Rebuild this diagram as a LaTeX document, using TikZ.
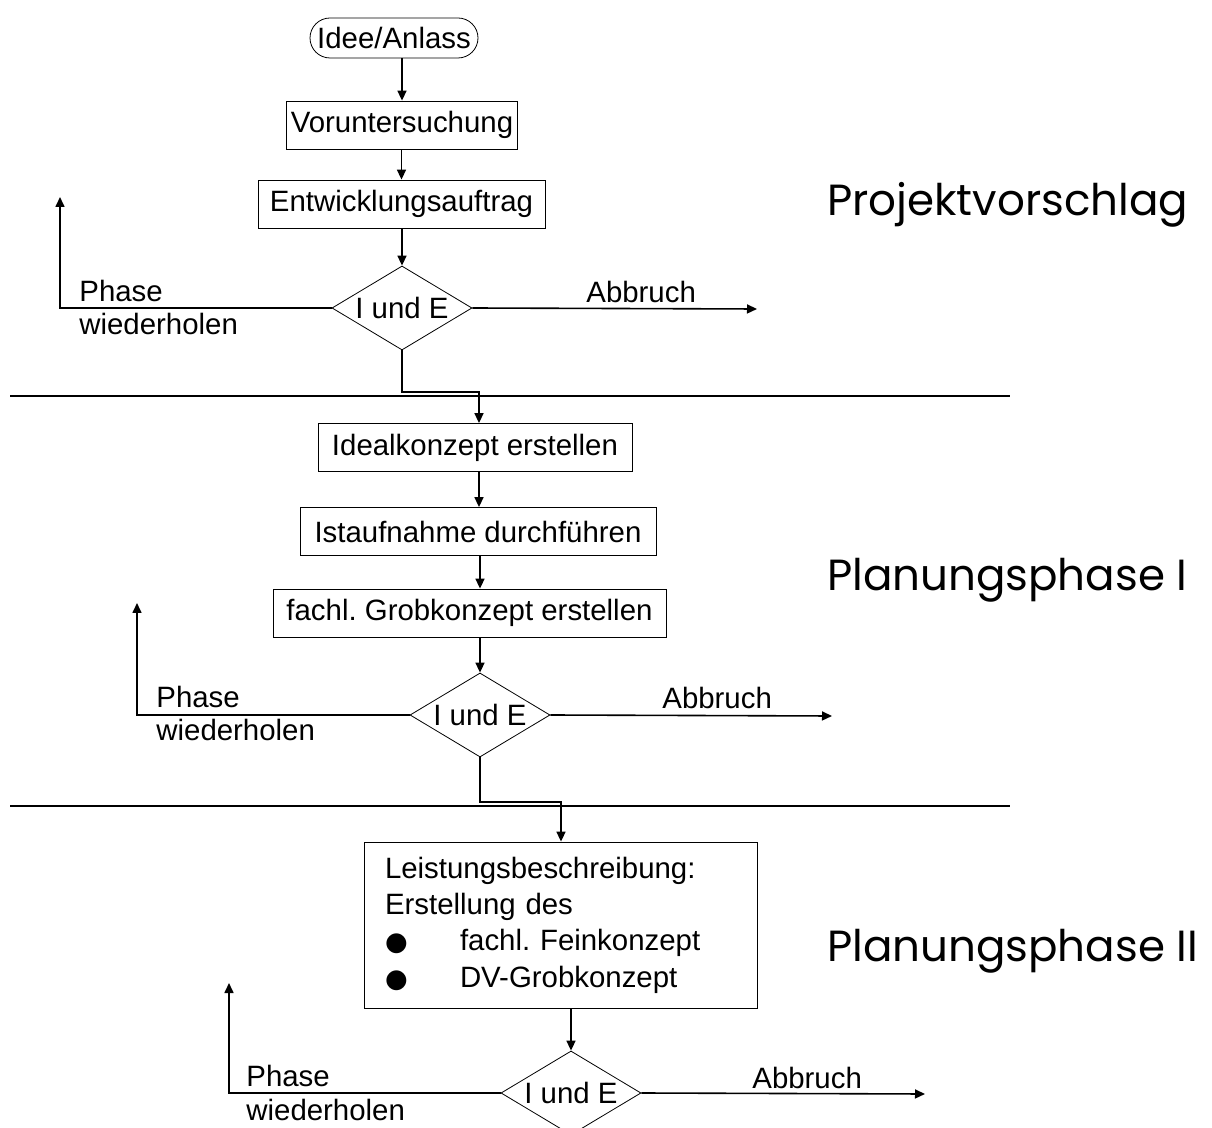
\documentclass[tikz,border=0pt]{standalone}
\usepackage{fontspec}
\setmainfont{Liberation Sans}
\newfontfamily\phasefont{Poppins}
\newfontfamily\bulletfont{DejaVu Sans}
\usetikzlibrary{positioning,shapes.geometric,arrows.meta}
\frenchspacing

\tikzset{
	box/.style={draw, thin, minimum height=24pt, inner sep=2pt},
	startbox/.style={draw, thin, rounded corners=10pt, minimum width=84pt, minimum height=20pt, inner sep=1pt},
	decide/.style={draw, thin, diamond, aspect=1.67, inner sep=0pt, minimum width=70pt, minimum height=42pt},
	arr/.style={-{Triangle[length=5pt,width=4.5pt]}, line width=0.8pt},
	sepline/.style={line width=1.2pt},
	phaselabel/.style={anchor=base west, font=\phasefont\fontsize{21.8}{26}\selectfont},
	note/.style={anchor=base west, inner sep=0pt}
}

\begin{document}
\begin{tikzpicture}[x=0.5pt, y=-0.5pt, font=\fontsize{14.7}{17}\selectfont]
	\useasboundingbox (0,0) rectangle (1212,1128);
	
	% PROJEKTVORSCHLAG
	
	\node [startbox] at (394,38) (idee) {Idee/Anlass};
	\node [box, minimum width=115pt] at (402,125) (vor) {Voruntersuchung};
	\node [box, minimum width=143.5pt] at (401.5,204) (entw) {Entwicklungsauftrag};
	\node [decide] at (402,308) (dia1) {I und E};
	
	\draw [arr] (idee.south -| vor.north) -- (vor.north);
	\draw [arr] (vor.south -| entw.north) -- (entw.north);
	\draw [arr] (entw.south -| dia1.north) -- (dia1.north);
	
	% Phase wiederholen / Abbruch
	\coordinate (back1) at (60,197);
	\coordinate (stop1) at (757,309);
	\draw [arr] (dia1.west) -| (back1);
	\draw [arr] (dia1.east) -- (stop1);
	\node [note] at (79,302) (ph1) {Phase};
	\node [note] at (79,335) (wh1) {wiederholen};
	\node [note] at (586,303) (ab1) {Abbruch};
	
	\node [phaselabel] at (820,216) (lab1) {Projektvorschlag};
	
	% separator
	\draw [sepline] (10,396) -- (1010,396);
	
	% PLANUNGSPHASE I
	
	\node [box, minimum width=157pt] at (475,447.5) (ideal) {Idealkonzept erstellen};
	\node [box, minimum width=178pt] at (478,531.5) (ist) {Istaufnahme durchführen};
	\node [box, minimum width=196.5pt] at (469.5,613) (grob) {fachl. Grobkonzept erstellen};
	\node [decide] at (480,715) (dia2) {I und E};
	
	\coordinate (bend1) at (479,392);
	\draw [arr] (dia1.south) |- (bend1) -- (bend1 |- ideal.north);
	\draw [arr] ([xshift=2pt]ideal.south) -- ([xshift=2pt]ideal.south |- ist.north);
	\draw [arr] (ist.south -| dia2.north) -- (dia2.north |- grob.north);
	\draw [arr] (grob.south -| dia2.north) -- (dia2.north);
	
	% Phase wiederholen / Abbruch
	\coordinate (back2) at (137,603);
	\coordinate (stop2) at (832,716);
	\draw [arr] (dia2.west) -| (back2);
	\draw [arr] (dia2.east) -- (stop2);
	\node [note] at (156,708) (ph2) {Phase};
	\node [note] at (156,741) (wh2) {wiederholen};
	\node [note] at (662,709) (ab2) {Abbruch};
	
	\node [phaselabel] at (820,591) (lab2) {Planungsphase I};
	
	% separator
	\draw [sepline] (10,806) -- (1010,806);
	
	% PLANUNGSPHASE II
	
	\node [box, text width=175.5pt, inner xsep=10.5pt, align=left, minimum height=83pt,
		font=\fontsize{14.7}{18.2}\selectfont] at (560.5,925) (leist)
		{Leistungsbeschreibung:\\
		 Erstellung des\\
		 \makebox[37.5pt][l]{\bulletfont\fontsize{13}{18}\selectfont ●}fachl. Feinkonzept\\
		 \makebox[37.5pt][l]{\bulletfont\fontsize{13}{18}\selectfont ●}DV-Grobkonzept};
	\node [decide] at (571,1093) (dia3) {I und E};
	
	\coordinate (bend2) at (561,802);
	\draw [arr] (dia2.south) |- (bend2) -- (bend2 |- leist.north);
	\draw [arr] (leist.south -| dia3.north) -- (dia3.north);
	
	% Phase wiederholen / Abbruch
	\coordinate (back3) at (229,983);
	\coordinate (stop3) at (925,1094);
	\draw [arr] (dia3.west) -| (back3);
	\draw [arr] (dia3.east) -- (stop3);
	\node [note] at (246,1087) (ph3) {Phase};
	\node [note] at (246,1120) (wh3) {wiederholen};
	\node [note] at (752,1088) (ab3) {Abbruch};
	
	\node [phaselabel] at (820,962) (lab3) {Planungsphase II};
	
\end{tikzpicture}
\end{document}
